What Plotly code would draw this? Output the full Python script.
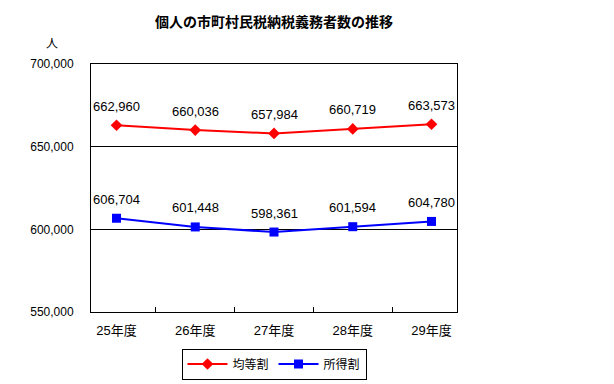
import plotly.graph_objects as go

categories = ["25年度", "26年度", "27年度", "28年度", "29年度"]
kintou = [662960, 660036, 657984, 660719, 663573]
shotoku = [606704, 601448, 598361, 601594, 604780]
ytick_vals = [550000, 600000, 650000, 700000]
ytick_text = ["550,000", "600,000", "650,000", "700,000"]

FONT = "Liberation Sans, Noto Sans CJK JP, sans-serif"
JFONT = "Noto Sans CJK JP, sans-serif"

OFF = 8  # default page body margin
W, H = 614 - OFF, 384 - OFF
ML, MT = 91 - OFF, 64 - OFF
MR = W - (457 - OFF)
MB = H - (312 - OFF)
PW, PH = W - ML - MR, H - MT - MB

def py(win_y):
    return (H - MB - (win_y - OFF)) / PH

def px(win_x):
    return ((win_x - OFF) - ML) / PW

fig = go.Figure()
fig.add_trace(go.Scatter(
    x=categories, y=kintou, name="均等割",
    mode="lines+markers",
    line=dict(color="#FF0000", width=2),
    marker=dict(symbol="diamond", size=9, color="#FF0000"),
))
fig.add_trace(go.Scatter(
    x=categories, y=shotoku, name="所得割",
    mode="lines+markers",
    line=dict(color="#0000FF", width=2),
    marker=dict(symbol="square", size=9, color="#0000FF"),
))

annotations = []
for series in (kintou, shotoku):
    for c, v in zip(categories, series):
        annotations.append(dict(x=c, y=v, xref="x", yref="y", text=f"{v:,}",
                                showarrow=False, yshift=19,
                                font=dict(family=FONT, size=13, color="black")))
annotations.append(dict(text="人", x=px(52), y=py(42), xanchor="center", yanchor="middle",
                        xref="paper", yref="paper", showarrow=False,
                        font=dict(family=JFONT, size=12, color="black")))

fig.update_layout(
    width=W, height=H,
    margin=dict(l=ML, r=MR, t=MT, b=MB, autoexpand=False),
    paper_bgcolor="white", plot_bgcolor="white",
    font=dict(family=FONT, size=12, color="black"),
    title=dict(text="<b>個人の市町村民税納税義務者数の推移</b>", x=0.5, xref="paper",
               y=1 - (22 - OFF) / H, yanchor="middle",
               font=dict(family=JFONT, size=14, color="black")),
    showlegend=True,
    legend=dict(orientation="h", x=0.5, xanchor="center", y=py(364),
                yanchor="middle",
                bordercolor="black", borderwidth=1, bgcolor="white",
                font=dict(family=JFONT, size=12),
                itemwidth=40, traceorder="normal", tracegroupgap=0),
    xaxis=dict(type="category", showline=True, linecolor="black", linewidth=1, mirror=True,
               ticks="inside", tickson="boundaries", ticklen=5, tickcolor="black",
               showgrid=False, ticklabelstandoff=6, tickfont=dict(family=FONT, size=13)),
    yaxis=dict(range=[550000, 700000], tickvals=ytick_vals, ticktext=ytick_text,
               showline=True, linecolor="black", linewidth=1, mirror=True,
               showgrid=True, gridcolor="black", gridwidth=1, zeroline=False,
               ticks="", ticklabelstandoff=14, tickfont=dict(family=FONT, size=12)),
    annotations=annotations,
)

fig.write_html("out.html")
